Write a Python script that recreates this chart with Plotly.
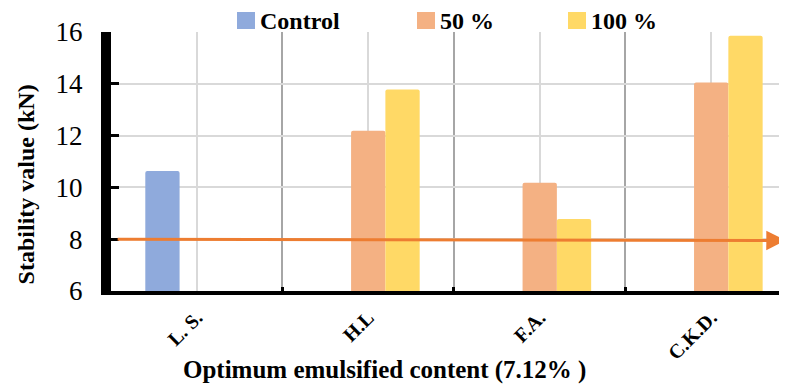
import plotly.graph_objects as go

categories = ["L. S.", "H.L", "F.A.", "C.K.D."]
series_names = ["Control", "50 %", "100 %"]
control_vals = [10.63, None, None, None]
pct50_vals = [None, 12.19, 10.18, 14.05]
pct100_vals = [None, 13.78, 8.78, 15.86]
threshold_start = 8.0
threshold_end = 7.95
y_ticks = [6, 8, 10, 12, 14, 16]

colors = ["#8FAADC", "#F4B183", "#FFD966"]
FONT = "Liberation Serif, Times New Roman, serif"

x_pos = list(range(len(categories)))
fig = go.Figure()
for name, vals, col in zip(series_names, [control_vals, pct50_vals, pct100_vals], colors):
    fig.add_trace(go.Bar(x=x_pos, y=vals, name=name, marker=dict(color=col, line=dict(width=0)),
                         showlegend=False))

fig.update_layout(
    width=779, height=379,
    margin=dict(l=103, r=0, t=24, b=96, autoexpand=False),
    paper_bgcolor="white", plot_bgcolor="white",
    barmode="group", bargap=0.4, bargroupgap=0,
    barcornerradius=2,
    font=dict(family=FONT, color="black"),
)
fig.update_xaxes(
    range=[-0.5, 3.442], tickmode="array", tickvals=x_pos, ticktext=categories,
    tickangle=-45, tickfont=dict(family=FONT, size=20, color="black", weight="bold"),
    showgrid=True, gridcolor="#d9d9d9", gridwidth=1.5,
    showline=True, linecolor="black", linewidth=4, ticks="", ticklabelstandoff=3,
    minor=dict(tickvals=[0.5, 1.5, 2.5], showgrid=True, gridcolor="#a6a6a6", gridwidth=1.5,
               ticks="inside", ticklen=4, tickwidth=3, tickcolor="black"),
    zeroline=False, automargin=False,
)
fig.update_yaxes(
    range=[6, 16], tickvals=y_ticks,
    tickfont=dict(family=FONT, size=27, color="black"),
    showgrid=True, gridcolor="#d9d9d9", gridwidth=2,
    showline=True, linecolor="black", linewidth=10,
    ticks="inside", ticklen=8, tickwidth=3, tickcolor="black",
    ticklabelstandoff=13, zeroline=False, automargin=False,
)

# threshold arrow
fig.add_annotation(x=3.435, y=threshold_end, ax=-0.47, ay=threshold_start,
                   xref="x", yref="y", axref="x", ayref="y", text="",
                   showarrow=True, arrowhead=2, arrowsize=1.3, arrowwidth=3,
                   arrowcolor="#ED7D31", standoff=0, startstandoff=0)

# axis titles
fig.add_annotation(text="<b>Optimum emulsified content (7.12% )</b>", xref="paper", yref="paper",
                   x=0.405, y=-0.305, xanchor="center", yanchor="middle", showarrow=False,
                   font=dict(family=FONT, size=25, color="black"))
fig.add_annotation(text="<b>Stability value (kN)</b>", xref="paper", yref="paper",
                   x=-0.126, y=0.411, xanchor="center", yanchor="middle", showarrow=False,
                   textangle=-90, font=dict(family=FONT, size=24, color="black"))

# legend (custom, top)
leg_sq_x = [237, 417, 568]
for name, col, sx in zip(series_names, colors, leg_sq_x):
    x0 = (sx - 111) / 676.0
    x1 = (sx + 18 - 111) / 676.0
    fig.add_shape(type="rect", xref="paper", yref="paper", x0=x0, x1=x1,
                  y0=(291 - 29) / 259.0, y1=(291 - 12) / 259.0,
                  fillcolor=col, line=dict(width=0), layer="above")
    fig.add_annotation(text="<b>" + name + "</b>", xref="paper", yref="paper",
                       x=(sx + 21 - 111) / 676.0, y=(291 - 21) / 259.0,
                       xanchor="left", yanchor="middle", showarrow=False,
                       font=dict(family=FONT, size=24, color="black"))

fig.write_html("out.html")
